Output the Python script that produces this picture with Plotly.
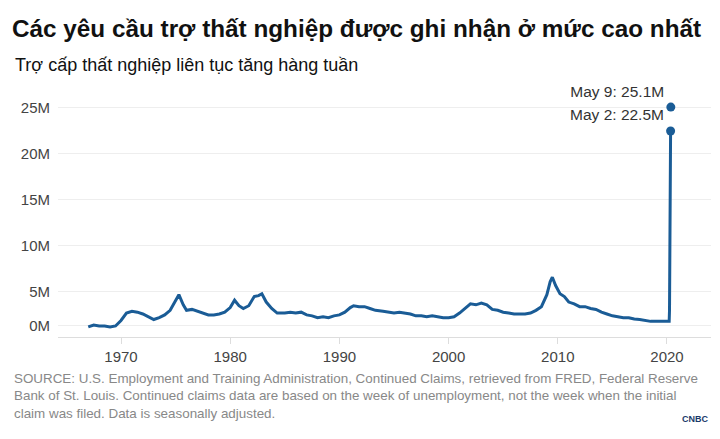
import plotly.graph_objects as go

years = [1967.0,1967.5,1968.0,1968.5,1969.0,1969.5,1970.0,1970.5,1971.0,1971.5,1972.0,1972.5,1973.0,1973.5,1974.0,1974.5,1974.9,1975.3,1975.7,1976.0,1976.5,1977.0,1977.5,1978.0,1978.5,1979.0,1979.5,1980.0,1980.4,1980.8,1981.2,1981.7,1982.2,1982.6,1982.9,1983.3,1983.8,1984.3,1985.0,1985.5,1986.0,1986.5,1987.0,1987.5,1988.0,1988.5,1989.0,1989.5,1990.0,1990.5,1991.0,1991.3,1991.8,1992.3,1992.8,1993.3,1994.0,1994.5,1995.0,1995.5,1996.0,1996.5,1997.0,1997.5,1998.0,1998.5,1999.0,1999.5,2000.0,2000.5,2001.0,2001.5,2002.0,2002.5,2003.0,2003.5,2004.0,2004.5,2005.0,2005.5,2006.0,2006.5,2007.0,2007.5,2008.0,2008.5,2009.0,2009.3,2009.5,2009.8,2010.2,2010.6,2011.0,2011.5,2012.0,2012.5,2013.0,2013.5,2014.0,2014.5,2015.0,2015.5,2016.0,2016.5,2017.0,2017.5,2018.0,2018.5,2019.0,2019.5,2020.0,2020.2,2020.23,2020.25,2020.27,2020.29,2020.31,2020.33,2020.35]
claims_m = [1.2,1.4,1.3,1.3,1.2,1.3,1.9,2.7,2.9,2.8,2.6,2.3,2.0,2.2,2.5,3.0,3.8,4.7,3.6,3.0,3.1,2.9,2.7,2.5,2.5,2.6,2.8,3.3,4.1,3.5,3.2,3.5,4.5,4.6,4.8,3.9,3.2,2.7,2.7,2.8,2.7,2.8,2.5,2.4,2.2,2.3,2.2,2.4,2.5,2.8,3.3,3.5,3.4,3.4,3.2,3.0,2.9,2.8,2.7,2.8,2.7,2.6,2.4,2.4,2.3,2.4,2.3,2.2,2.2,2.3,2.7,3.2,3.7,3.6,3.8,3.6,3.1,3.0,2.8,2.7,2.6,2.6,2.6,2.7,3.0,3.4,4.7,6.1,6.6,5.7,4.8,4.5,3.9,3.7,3.4,3.4,3.2,3.1,2.8,2.6,2.4,2.3,2.2,2.2,2.05,2.0,1.9,1.8,1.8,1.8,1.8,1.8,3.0,7.4,12.0,16.0,18.5,22.6,22.5,25.1]
ann_labels = ["May 2: 22.5M", "May 9: 25.1M"]
ann_x = [2020.33, 2020.35]
ann_y = [22.5, 25.1]
tick_vals = [1.3, 5, 10, 15, 20, 25]
tick_text = ["0M", "5M", "10M", "15M", "20M", "25M"]

blue = "#1a5c96"
fig = go.Figure()
fig.add_trace(go.Scatter(x=years, y=claims_m, mode="lines", line=dict(color=blue, width=3), hoverinfo="skip"))
fig.add_trace(go.Scatter(x=ann_x, y=ann_y, mode="markers+text", text=ann_labels, textposition="top left",
                         textfont=dict(size=15.5, color="#333", family="Arial"),
                         marker=dict(color=blue, size=9), cliponaxis=False))
fig.update_layout(
    width=720, height=439, showlegend=False, plot_bgcolor="white", paper_bgcolor="white",
    margin=dict(l=50, r=17, t=77, b=110),
    font=dict(family="Arial", color="#555"),
    xaxis=dict(range=[1964.23, 2024.03], tickvals=[1970,1980,1990,2000,2010,2020], showgrid=False, automargin=False,
               showline=True, linecolor="#ddd", ticks="outside", tickcolor="#ddd", ticklen=6,
               tickfont=dict(size=15, color="#444")),
    yaxis=dict(range=[0.1, 27.5], tickvals=tick_vals, ticktext=tick_text, showgrid=True, automargin=False,
               gridcolor="#eee", zeroline=False, tickfont=dict(size=15, color="#444"), ticklabelstandoff=7),
)
fig.add_annotation(text="<b>Các yêu cầu trợ thất nghiệp được ghi nhận ở mức cao nhất</b>", xref="paper", yref="paper",
                   x=-0.073, y=1.0, xanchor="left", yanchor="bottom", yshift=41, showarrow=False,
                   font=dict(size=24.3, color="#111", family="Arial"))
fig.add_annotation(text="Trợ cấp thất nghiệp liên tục tăng hàng tuần", xref="paper", yref="paper",
                   x=-0.069, y=1.0, xanchor="left", yanchor="bottom", yshift=8, showarrow=False,
                   font=dict(size=18, color="#111", family="Arial"))
fig.add_annotation(text="SOURCE: U.S. Employment and Training Administration, Continued Claims, retrieved from FRED, Federal Reserve<br>Bank of St. Louis. Continued claims data are based on the week of unemployment, not the week when the initial<br>claim was filed. Data is seasonally adjusted.",
                   xref="paper", yref="paper", x=-0.071, y=0, xanchor="left", yanchor="top", yshift=-32,
                   showarrow=False, align="left", font=dict(size=13.4, color="#888", family="Arial"))
fig.add_annotation(text="<b>CNBC</b>", xref="paper", yref="paper", x=0.975, y=0, xanchor="center", yanchor="top",
                   yshift=-75, showarrow=False, font=dict(size=9, color="#1a3a6a", family="Arial"))
fig.write_html("out.html")
